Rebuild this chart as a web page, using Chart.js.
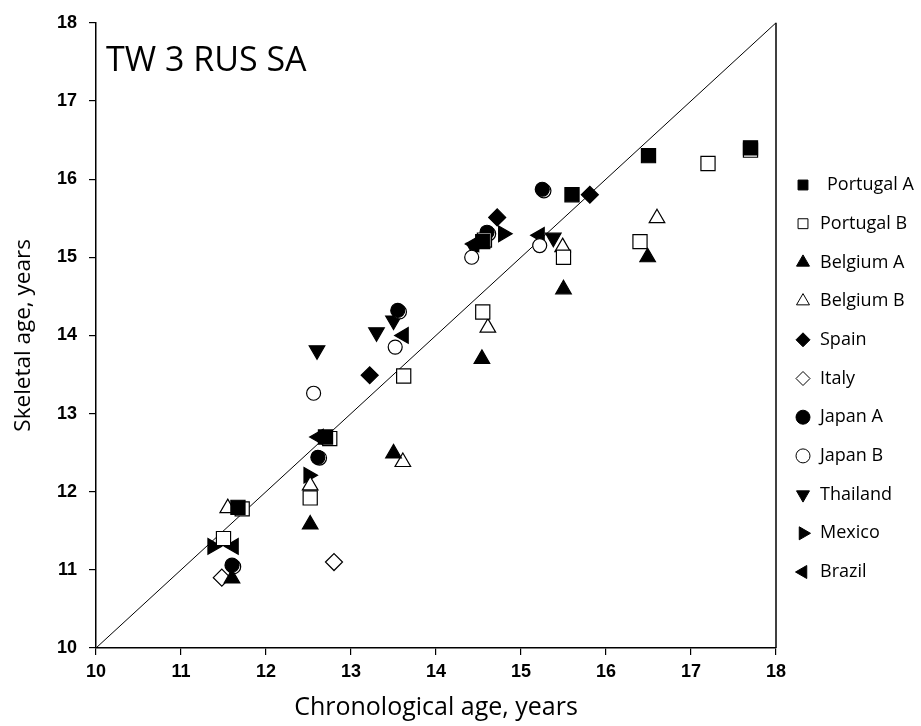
<!DOCTYPE html>
<html>
<head>
<meta charset="utf-8">
<script src="https://cdn.jsdelivr.net/npm/chart.js@4"></script>
<style>
  html, body { margin: 0; background: #fff; }
  #wrap { width: 921px; height: 726px; }
</style>
</head>
<body>
<div id="wrap"><canvas id="chart" width="921" height="726"></canvas></div>
<script>
// values: [chronological age, skeletal age]
const portugalA = [[11.67, 11.8], [12.7, 12.7], [14.55, 15.2], [15.6, 15.8], [16.5, 16.3], [17.7, 16.4]];
const portugalB = [[11.5, 11.4], [11.72, 11.78], [12.52, 11.92], [12.75, 12.68], [13.62, 13.48], [14.55, 14.3], [14.57, 15.22], [15.5, 15.0], [16.4, 15.2], [17.2, 16.2], [17.7, 16.37]];
const belgiumA = [[11.6, 10.89], [12.52, 11.58], [13.5, 12.49], [14.54, 13.7], [15.5, 14.59], [16.49, 15.0]];
const belgiumB = [[11.55, 11.79], [12.52, 12.08], [13.61, 12.38], [14.61, 14.1], [15.49, 15.13], [16.6, 15.5]];
const spain = [[13.22, 13.49], [14.72, 15.51], [15.81, 15.8]];
const italy = [[11.48, 10.9], [12.8, 11.1]];
const japanA = [[11.6, 11.06], [12.61, 12.44], [13.55, 14.32], [14.6, 15.32], [15.25, 15.87]];
const japanB = [[11.62, 11.04], [12.56, 13.26], [12.63, 12.43], [13.52, 13.85], [13.57, 14.3], [14.42, 15.0], [14.62, 15.3], [15.22, 15.15], [15.27, 15.85]];
const thailand = [[12.6, 13.81], [13.3, 14.04], [13.5, 14.19], [14.45, 15.12], [15.38, 15.25]];
const mexico = [[11.37, 11.3], [12.5, 12.21], [14.79, 15.3]];
const brazil = [[11.62, 11.3], [12.62, 12.7], [13.62, 14.0], [14.45, 15.17], [15.22, 15.28]];
const identity = [10, 18];
const xTicks = [10, 11, 12, 13, 14, 15, 16, 17, 18];
const yTicks = [10, 11, 12, 13, 14, 15, 16, 17, 18];

const toPts = arr => arr.map(p => ({ x: p[0], y: p[1] }));

// marker styles per series
const series = [
  { label: 'Portugal A', data: portugalA, style: 'rect', r: 10, rot: 0, fill: '#000', lr: 7 },
  { label: 'Portugal B', data: portugalB, style: 'rect', r: 10, rot: 0, fill: '#fff', lr: 7 },
  { label: 'Belgium A', data: belgiumA, style: 'triangle', r: 9, rot: 0, fill: '#000', lr: 7.5 },
  { label: 'Belgium B', data: belgiumB, style: 'triangle', r: 9, rot: 0, fill: '#fff', lr: 7.5 },
  { label: 'Spain', data: spain, style: 'rectRot', r: 8.5, rot: 0, fill: '#000', lr: 7 },
  { label: 'Italy', data: italy, style: 'rectRot', r: 8.5, rot: 0, fill: '#fff', lr: 7 },
  { label: 'Japan A', data: japanA, style: 'circle', r: 7, rot: 0, fill: '#000', lr: 7 },
  { label: 'Japan B', data: japanB, style: 'circle', r: 7, rot: 0, fill: '#fff', lr: 7 },
  { label: 'Thailand', data: thailand, style: 'triangle', r: 9, rot: 180, fill: '#000', lr: 7.5 },
  { label: 'Mexico', data: mexico, style: 'triangle', r: 9, rot: 90, fill: '#000', lr: 7.5 },
  { label: 'Brazil', data: brazil, style: 'triangle', r: 9, rot: 270, fill: '#000', lr: 7.5 }
];

const datasets = series.map(s => ({
  label: s.label,
  data: toPts(s.data),
  pointStyle: s.style,
  pointRadius: s.r,
  pointRotation: s.rot,
  pointBackgroundColor: s.fill,
  pointBorderColor: '#000',
  pointBorderWidth: 1.2,
  showLine: false
}));

datasets.push({
  label: 'identity',
  type: 'line',
  data: identity.map(v => ({ x: v, y: v })),
  borderColor: '#000',
  borderWidth: 1,
  pointRadius: 0,
  fill: false
});

const extras = {
  id: 'extras',
  afterDraw(chart) {
    const { ctx, chartArea: a } = chart;
    ctx.save();
    // right frame line
    ctx.strokeStyle = '#000';
    ctx.lineWidth = 1.5;
    ctx.beginPath();
    ctx.moveTo(a.right, a.top);
    ctx.lineTo(a.right, a.bottom);
    ctx.stroke();

    // panel title
    ctx.fillStyle = '#000';
    ctx.font = '34px "Open Sans"';
    ctx.textBaseline = 'alphabetic';
    ctx.fillText('TW 3 RUS SA', a.left + 10, a.top + 48);

    // legend
    const lx = 803, ly = 185, step = 38.7;
    ctx.font = '18px "Open Sans"';
    ctx.textBaseline = 'middle';
    series.forEach((s, i) => {
      const y = ly + i * step;
      ctx.fillStyle = s.fill;
      ctx.strokeStyle = '#000';
      ctx.lineWidth = 1;
      Chart.helpers.drawPoint(ctx, { pointStyle: s.style, radius: s.lr, rotation: s.rot, borderWidth: 1 }, lx, y);
      ctx.fillStyle = '#000';
      ctx.fillText(s.label, i === 0 ? 827 : 820, y);
    });
    ctx.restore();
  }
};

const tickFont = { family: '"Liberation Sans", Arial', size: 18, weight: 'bold' };

new Chart(document.getElementById('chart'), {
  type: 'scatter',
  data: { datasets },
  options: {
    responsive: false,
    animation: false,
    layout: { padding: { top: 22, right: 145, left: 0, bottom: 0 } },
    plugins: { legend: { display: false }, tooltip: { enabled: false } },
    scales: {
      x: {
        type: 'linear',
        min: 10, max: 18,
        afterBuildTicks: s => { s.ticks = xTicks.map(v => ({ value: v })); },
        afterFit: s => { s.height = 78; },
        ticks: { color: '#000', font: tickFont, padding: 6, maxRotation: 0 },
        grid: { drawOnChartArea: false, drawTicks: true, tickLength: 7, color: '#000', lineWidth: 1.2 },
        border: { color: '#000', width: 1.5 },
        title: { display: true, text: 'Chronological age, years', color: '#000', font: { family: '"Open Sans"', size: 25 }, padding: { top: 0, bottom: 3 } }
      },
      y: {
        type: 'linear',
        min: 10, max: 18,
        afterBuildTicks: s => { s.ticks = yTicks.map(v => ({ value: v })); },
        afterFit: s => { s.width = 96; },
        ticks: { color: '#000', font: tickFont, padding: 12 },
        grid: { drawOnChartArea: false, drawTicks: true, tickLength: 7, color: '#000', lineWidth: 1.2 },
        border: { color: '#000', width: 1.5 },
        title: { display: true, text: 'Skeletal age, years', color: '#000', font: { family: '"Open Sans"', size: 22.5 }, padding: { top: 10, bottom: 0 } }
      }
    }
  },
  plugins: [extras]
});
</script>
</body>
</html>
